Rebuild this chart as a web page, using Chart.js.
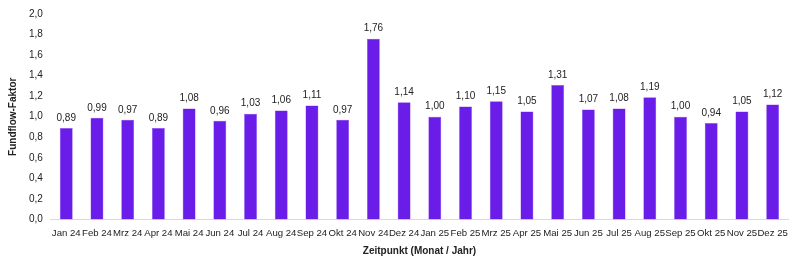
<!DOCTYPE html>
<html>
<head>
<meta charset="utf-8">
<script src="https://cdn.jsdelivr.net/npm/chart.js@4"></script>
<style>
  html, body { margin: 0; padding: 0; background: #fff; }
  #wrap { width: 800px; height: 263px; }
</style>
</head>
<body>
<div id="wrap"><canvas id="c"></canvas></div>
<script>
const months = ['Jan 24', 'Feb 24', 'Mrz 24', 'Apr 24', 'Mai 24', 'Jun 24', 'Jul 24', 'Aug 24', 'Sep 24', 'Okt 24', 'Nov 24', 'Dez 24',
  'Jan 25', 'Feb 25', 'Mrz 25', 'Apr 25', 'Mai 25', 'Jun 25', 'Jul 25', 'Aug 25', 'Sep 25', 'Okt 25', 'Nov 25', 'Dez 25']
const faktor = [0.89, 0.99, 0.97, 0.89, 1.08, 0.96, 1.03, 1.06, 1.11, 0.97, 1.76, 1.14,
  1.00, 1.10, 1.15, 1.05, 1.31, 1.07, 1.08, 1.19, 1.00, 0.94, 1.05, 1.12]

const fmt = v => v.toFixed(2).replace('.', ',')

// Werte über den Balken
const valueLabels = {
  id: 'valueLabels',
  afterDatasetsDraw(chart) {
    const ctx = chart.ctx
    const meta = chart.getDatasetMeta(0)
    ctx.save()
    ctx.font = '10px "Liberation Sans", Arial, sans-serif'
    ctx.fillStyle = '#222'
    ctx.textAlign = 'center'
    ctx.textBaseline = 'bottom'
    meta.data.forEach((bar, i) => {
      ctx.fillText(fmt(faktor[i]), bar.x, bar.y - 5)
    })
    ctx.restore()
  },
}

Chart.defaults.font.family = '"Liberation Sans", Arial, sans-serif'
Chart.defaults.color = '#222'

const ctx = document.getElementById('c').getContext('2d')
new Chart(ctx, {
  type: 'bar',
  data: {
    labels: months,
    datasets: [
      {
        data: faktor,
        backgroundColor: '#6a1de9',
        borderColor: '#8a4cf0',
        borderWidth: 0.5,
        categoryPercentage: 1,
        barPercentage: 0.42,
      },
    ],
  },
  options: {
    responsive: true,
    maintainAspectRatio: false,
    animation: false,
    layout: { padding: { top: 6, right: 12, left: 3, bottom: 2 } },
    plugins: {
      legend: { display: false },
      tooltip: { enabled: false },
    },
    scales: {
      x: {
        grid: { display: false, drawTicks: false },
        border: { color: '#d9d9d9' },
        ticks: { font: { size: 9.6 }, maxRotation: 0, autoSkip: false, padding: 8 },
        title: { display: true, text: 'Zeitpunkt (Monat / Jahr)', font: { size: 10, weight: 'bold' }, padding: { top: -2 } },
      },
      y: {
        min: 0,
        max: 2,
        grid: { display: false, drawTicks: false },
        border: { display: false },
        ticks: { stepSize: 0.2, font: { size: 10 }, padding: 8, callback: v => v.toFixed(1).replace('.', ',') },
        title: { display: true, text: 'Fundflow-Faktor', font: { size: 10, weight: 'bold' }, padding: { bottom: 2 } },
      },
    },
  },
  plugins: [valueLabels],
})
</script>
</body>
</html>
